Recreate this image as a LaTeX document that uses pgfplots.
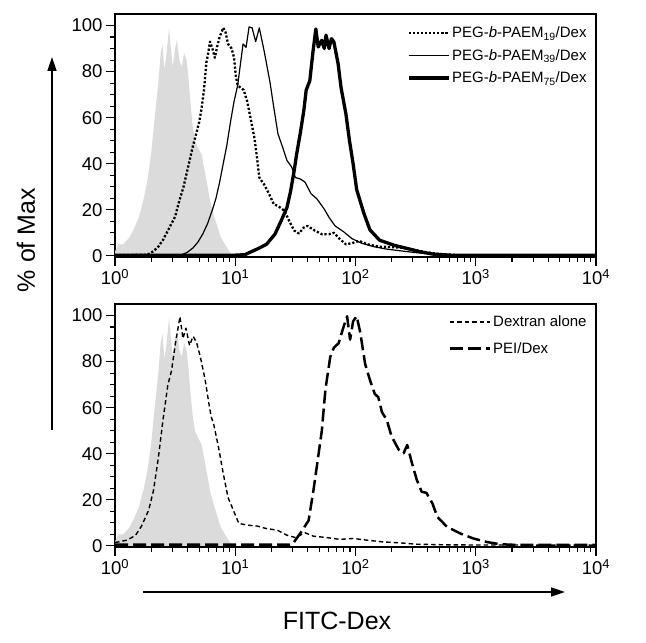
\documentclass[border=0pt]{standalone}
\usepackage{fontspec}
\setmainfont{Liberation Sans}
\usepackage{pgfplots}
\usepackage{pgfplotstable}
\pgfplotsset{compat=1.18}
\usetikzlibrary{arrows.meta}

% x values are log10 of FITC-Dex intensity
\pgfplotstableread{
x y
0.0 2
0.03 5
0.07 5
0.12 8
0.16 12
0.2 17
0.24 25
0.27 33
0.3 44
0.33 60
0.36 75
0.38 88
0.395 92
0.41 81
0.425 86
0.45 99
0.465 90
0.48 82
0.5 90
0.515 94
0.535 85
0.555 82
0.575 88
0.595 85
0.61 78
0.625 68
0.645 57
0.665 50
0.69 47
0.72 44
0.745 37
0.77 30
0.79 24
0.82 18
0.85 13
0.88 8
0.92 4.5
0.95 2
0.98 0
}\control

\pgfplotstableread{
x y
0.0 0.3
0.27 0.5
0.32 2
0.36 4
0.4 7
0.43 10
0.47 14
0.5 17
0.53 23
0.57 30
0.61 39
0.64 46
0.67 52
0.7 58
0.72 64
0.74 72
0.76 84
0.775 88
0.79 93
0.81 90
0.83 86
0.85 91
0.87 95
0.9 99
0.92 97
0.94 92
0.97 90
0.99 86
1.005 78
1.02 74
1.07 72
1.1 67
1.13 59
1.16 51
1.18 43
1.2 34
1.24 31
1.28 27
1.32 22.5
1.36 21.5
1.41 19.5
1.45 15
1.49 11
1.53 9.7
1.57 12.3
1.6 13
1.66 11
1.72 9.4
1.78 9.4
1.82 10
1.87 7.3
1.92 5
1.97 5.5
2.03 6.5
2.1 5
2.2 4
2.3 3.8
2.4 3.5
2.5 2.5
2.6 1.5
2.7 0.8
2.85 0.3
3.0 0.2
4.0 0.2
}\peganineteen

\pgfplotstableread{
x y
0.0 0.3
0.55 0.4
0.6 1.5
0.65 3.5
0.69 6
0.73 9.5
0.77 14
0.81 20
0.84 25
0.87 32
0.9 40
0.93 48
0.96 58
0.99 67
1.02 74
1.04 82
1.065 92
1.09 90.5
1.115 99.4
1.14 99
1.17 93
1.2 99
1.24 89
1.26 83.5
1.29 75
1.32 64.6
1.355 53
1.395 47
1.43 41.4
1.45 40
1.47 38.5
1.5 34
1.54 33.4
1.58 32
1.63 27
1.68 24.7
1.74 20.3
1.78 16.7
1.83 13
1.9 10.5
1.97 7.5
2.05 5.5
2.15 4
2.25 3
2.37 2.2
2.5 1.4
2.6 1
2.8 0.3
3.0 0.2
4.0 0.2
}\pegthirtynine

\pgfplotstableread{
x y
0.0 0.3
1.0 0.3
1.08 0.5
1.18 2.9
1.26 5
1.33 9.4
1.38 15
1.43 21
1.46 28
1.49 37
1.51 44
1.54 53
1.57 63
1.59 72
1.62 76
1.645 88
1.67 98.5
1.69 90.7
1.72 93.6
1.74 90
1.755 95.8
1.78 90
1.80 94.3
1.82 92.9
1.855 83.5
1.88 73
1.92 61.7
1.95 50
1.98 40
2.01 28.7
2.07 18.4
2.12 11.3
2.2 6.8
2.32 4.6
2.43 3.2
2.54 1.7
2.65 0.7
2.79 0.3
4.0 0.3
}\pegseventyfive

\pgfplotstableread{
x y
0.0 1.5
0.03 1.7
0.1 2.5
0.17 4.5
0.22 8.5
0.28 15.5
0.32 24
0.36 38
0.4 55
0.44 70
0.47 76
0.5 87
0.54 99.5
0.565 90
0.59 94.5
0.62 87
0.65 91
0.68 88
0.71 82
0.75 72
0.78 62
0.8 56
0.82 53
0.86 43
0.9 31.5
0.94 21
0.98 16
1.03 9.7
1.1 9
1.18 8.6
1.26 7.5
1.35 6.8
1.43 4.6
1.5 3.6
1.58 5.7
1.65 4.2
1.76 3.6
1.87 2.8
1.98 3.2
2.09 2.5
2.23 1.7
2.37 1.3
2.51 0.7
2.8 0.4
4.0 0.3
}\dextran

\pgfplotstableread{
x y
0.0 0.5
1.45 0.5
1.48 1
1.54 5.4
1.61 11
1.65 24
1.69 38.8
1.72 50
1.75 68
1.79 82
1.82 86
1.86 88
1.9 95
1.93 99.7
1.955 89.5
1.98 97.5
2.01 99.7
2.04 92.5
2.08 79
2.12 72
2.16 66
2.19 64.5
2.22 58
2.26 54.7
2.3 47.5
2.36 41.7
2.4 40.2
2.43 43.8
2.47 35.8
2.51 28.6
2.55 23.5
2.59 23
2.64 18.4
2.68 12.6
2.76 8.3
2.87 5.4
2.98 3.2
3.09 1.7
3.2 0.7
3.34 0.4
4.0 0.4
}\pei

\pgfplotsset{
  myaxis/.style={
    scale only axis, width=481pt, height=243pt,
    xmin=0, xmax=4, ymin=-0.5, ymax=105,
    xtick={0,1,2,3,4},
    xticklabels={10\textsuperscript{0},10\textsuperscript{1},10\textsuperscript{2},10\textsuperscript{3},10\textsuperscript{4}},
    minor xtick={0.30103,0.47712,0.60206,0.69897,0.77815,0.84510,0.90309,0.95424,
      1.30103,1.47712,1.60206,1.69897,1.77815,1.84510,1.90309,1.95424,
      2.30103,2.47712,2.60206,2.69897,2.77815,2.84510,2.90309,2.95424,
      3.30103,3.47712,3.60206,3.69897,3.77815,3.84510,3.90309,3.95424},
    ytick={0,20,40,60,80,100},
    minor y tick num=3,
    tick align=outside, xtick pos=bottom, ytick pos=left,
    major tick length=9pt, minor tick length=5pt,
    every tick/.style={black, line width=1.1pt},
    axis line style={line width=1.4pt},
    tick label style={font=\fontsize{18.5}{18.5}\selectfont},
    /pgf/number format/assume math mode=true,
    legend cell align=left,
    legend image code/.code={\draw[##1] (0pt,0pt) -- (40pt,0pt);},
    legend style={draw=none, fill=none, inner sep=0pt,
      font=\fontsize{15}{15}\selectfont,
      /tikz/every even column/.append style={column sep=7pt}},
    every axis plot/.append style={line join=round},
  },
}

\begin{document}
\begin{tikzpicture}
\path[use as bounding box] (0pt,0pt) rectangle (646pt,643pt);

\begin{axis}[myaxis, at={(115pt,386pt)}, anchor=south west,
  legend style={at={(0.985,0.955)}, anchor=north east, row sep=6pt}]
\addplot[fill=black!14, draw=none, forget plot] table[x=x,y=y]{\control} \closedcycle;
\addplot[black, line width=2.3pt, dash pattern=on 2.2pt off 1.9pt] table[x=x,y=y]{\peganineteen};
\addlegendentry{PEG-\textit{b}-PAEM\textsubscript{19}/Dex}
\addplot[black, line width=1.2pt] table[x=x,y=y]{\pegthirtynine};
\addlegendentry{PEG-\textit{b}-PAEM\textsubscript{39}/Dex}
\addplot[black, line width=3.3pt] table[x=x,y=y]{\pegseventyfive};
\addlegendentry{PEG-\textit{b}-PAEM\textsubscript{75}/Dex}
\end{axis}

\begin{axis}[myaxis, at={(115pt,96pt)}, anchor=south west,
  legend style={at={(0.985,0.96)}, anchor=north east, row sep=10pt}]
\addplot[fill=black!14, draw=none, forget plot] table[x=x,y=y]{\control} \closedcycle;
\addplot[black, line width=1.4pt, dash pattern=on 4.5pt off 3pt] table[x=x,y=y]{\dextran};
\addlegendentry{Dextran alone}
\addplot[black, line width=2.5pt, dash pattern=on 13pt off 5pt] table[x=x,y=y]{\pei};
\addlegendentry{PEI/Dex}
\end{axis}

\draw[line width=1.4pt, -{Triangle[length=14pt,width=9pt]}] (52pt,213pt) -- (52pt,586pt);
\draw[line width=1.4pt, -{Triangle[length=14pt,width=9pt]}] (143pt,51pt) -- (565pt,51pt);
\node[rotate=90, font=\fontsize{25}{25}\selectfont] at (26pt,403pt) {\% of Max};
\node[font=\fontsize{25}{25}\selectfont] at (337pt,22pt) {FITC-Dex};
\end{tikzpicture}
\end{document}
